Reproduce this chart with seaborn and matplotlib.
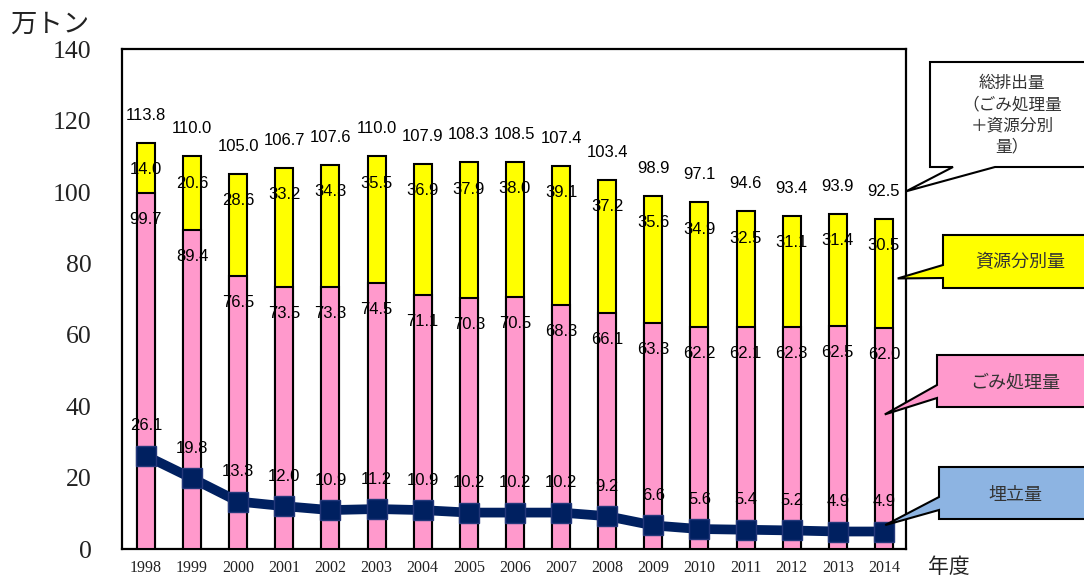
import numpy as np
import pandas as pd
import matplotlib
matplotlib.use("Agg")
import matplotlib.pyplot as plt
from matplotlib.patches import Polygon
import seaborn as sns

years = [str(y) for y in range(1998, 2015)]
total = [113.8, 110.0, 105.0, 106.7, 107.6, 110.0, 107.9, 108.3, 108.5, 107.4,
         103.4, 98.9, 97.1, 94.6, 93.4, 93.9, 92.5]
recycled = [14.0, 20.6, 28.6, 33.2, 34.3, 35.5, 36.9, 37.9, 38.0, 39.1,
            37.2, 35.6, 34.9, 32.5, 31.1, 31.4, 30.5]
treated = [99.7, 89.4, 76.5, 73.5, 73.3, 74.5, 71.1, 70.3, 70.5, 68.3,
           66.1, 63.3, 62.2, 62.1, 62.3, 62.5, 62.0]
landfill = [26.1, 19.8, 13.3, 12.0, 10.9, 11.2, 10.9, 10.2, 10.2, 10.2,
            9.2, 6.6, 5.6, 5.4, 5.2, 4.9, 4.9]

YELLOW = "#FFFF00"
PINK = "#FF99CC"
NAVY = "#002060"
BLUE = "#8DB4E2"

sns.set_theme(style="white")
plt.rcParams["font.family"] = ["Noto Sans CJK JP", "DejaVu Sans"]

W, H = 1084, 578
fig = plt.figure(figsize=(W / 100, H / 100), dpi=100)
ax = fig.add_axes([122 / W, 1 - 549 / H, (906 - 122) / W, (549 - 49.3) / H])

df = pd.DataFrame({"year": years, "total": total, "recycled": recycled,
                   "treated": treated, "landfill": landfill})
x = np.arange(len(years))

sns.barplot(data=df, x="year", y="total", color=YELLOW, saturation=1,
            width=0.39, edgecolor="black", linewidth=1.5, ax=ax, zorder=2)
sns.barplot(data=df, x="year", y="treated", color=PINK, saturation=1,
            width=0.39, edgecolor="black", linewidth=1.5, ax=ax, zorder=3)
sns.lineplot(x=x, y=df["landfill"], color=NAVY, linewidth=7, marker="s",
             markersize=14, markeredgecolor="#24387a", markeredgewidth=1,
             ax=ax, zorder=5)

ax.set_xlim(-0.52, len(years) - 0.52)
ax.set_ylim(0, 140)
ax.set_yticks(np.arange(0, 141, 20))
ax.set_xticks(x)
ax.set_xticklabels(years)
ax.set_xlabel("")
ax.set_ylabel("")
for s in ax.spines.values():
    s.set_visible(True)
    s.set_color("black")
    s.set_linewidth(1.6)
ax.tick_params(axis="y", direction="in", length=6, width=1.3, color="black",
               pad=22, labelsize=18.5)
ax.tick_params(axis="x", length=0, pad=8, labelsize=11.5)
for lab in ax.get_yticklabels() + ax.get_xticklabels():
    lab.set_fontfamily("Liberation Serif")
    lab.set_color("#222222")

lab_kw = dict(ha="center", va="center", fontsize=12, color="black",
              family="Liberation Sans", zorder=6)
for i in range(len(years)):
    ax.text(x[i], total[i] + 7.7, f"{total[i]:.1f}", **lab_kw)
    ax.text(x[i], total[i] - 7.5, f"{recycled[i]:.1f}", **lab_kw)
    ax.text(x[i], treated[i] - 7.4, f"{treated[i]:.1f}", **lab_kw)
    ax.text(x[i], landfill[i] + 8.4, f"{landfill[i]:.1f}", **lab_kw)

fig.text(10 / W, 1 - 24 / H, "万トン", fontsize=19, ha="left", va="center",
         color="#222222")
fig.text(949 / W, 1 - 567 / H, "年度", fontsize=15, ha="center", va="center",
         color="#222222")

fig.canvas.draw()


def px(xp, yp):
    return (xp / W, 1 - yp / H)


def tip(xd, yd):
    d = ax.transData.transform((xd, yd))
    return (d[0] / W, d[1] / H)


def callout(verts, fc):
    poly = Polygon(verts, closed=True, facecolor=fc, edgecolor="black",
                   linewidth=1.5, transform=fig.transFigure, zorder=10,
                   clip_on=False)
    fig.add_artist(poly)


n = len(years) - 1
# 総排出量 box (wedge from bottom)
callout([px(930, 62), px(1095, 62), px(1095, 167), px(995, 167),
         tip(n + 0.48, total[n] + 7.7), px(953, 167), px(930, 167)], "white")
fig.text(1012 / W, 1 - 115 / H, "総排出量\n（ごみ処理量\n＋資源分別\n量）",
         fontsize=12, ha="center", va="center", linespacing=1.32,
         color="#333333", zorder=11)
# 資源分別量
callout([px(943, 235), px(1095, 235), px(1095, 288), px(943, 288),
         px(943, 278), tip(n + 0.3, 75.8), px(943, 265)], YELLOW)
fig.text(1020 / W, 1 - 262 / H, "資源分別量", fontsize=13, ha="center",
         va="center", color="#333333", zorder=11)
# ごみ処理量
callout([px(937, 355), px(1095, 355), px(1095, 407), px(937, 407),
         px(937, 398), tip(n + 0.02, 37.7), px(937, 385)], PINK)
fig.text(1015 / W, 1 - 383 / H, "ごみ処理量", fontsize=13, ha="center",
         va="center", color="#333333", zorder=11)
# 埋立量
callout([px(939, 467), px(1095, 467), px(1095, 519), px(939, 519),
         px(939, 510), tip(n + 0.03, 6.7), px(939, 497)], BLUE)
fig.text(1015 / W, 1 - 495 / H, "埋立量", fontsize=13, ha="center",
         va="center", color="#333333", zorder=11)

fig.savefig("out.png", dpi=100)
